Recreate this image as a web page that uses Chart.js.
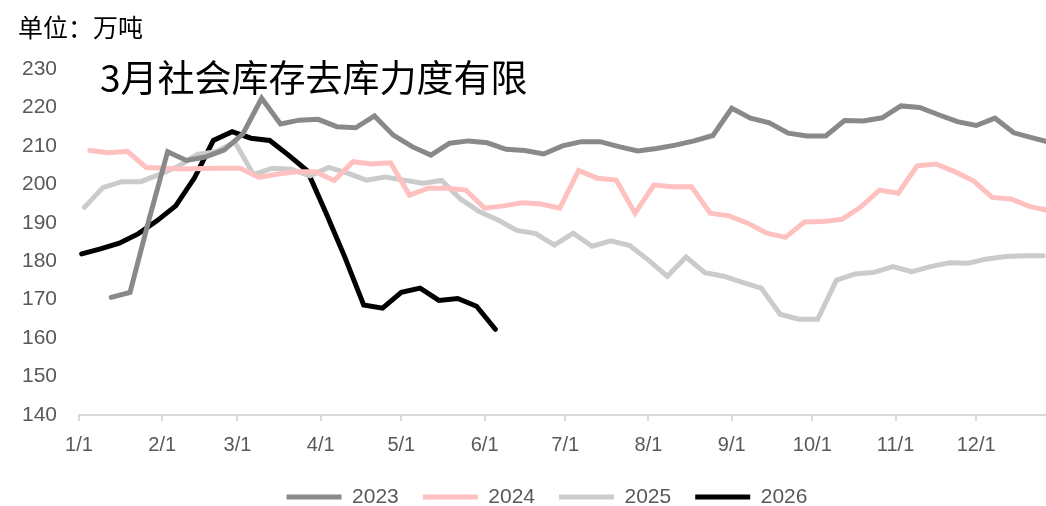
<!DOCTYPE html>
<html>
<head>
<meta charset="utf-8">
<script src="https://cdn.jsdelivr.net/npm/chart.js@4.4.1/dist/chart.umd.min.js"></script>
<style>
  html, body { margin: 0; padding: 0; background: #fff; }
  #wrap { width: 1046px; height: 506px; }
</style>
</head>
<body>
<div id="wrap"><canvas id="stockChart" width="1046" height="506"></canvas></div>
<script>
// ---- data (weekly readings, 万吨) ----
const unitText = "单位：万吨";
const noteText = "3月社会库存去库力度有限";

const seriesNames = ["2023", "2024", "2025", "2026"];
// first reading of each year, as day offset from 1/1
const firstDay = [12, 4, 2, 1];

const v2023 = [170.6, 171.9, 190.7, 208.5, 206.2, 207.1, 208.9, 213.1, 222.4, 215.7,
  216.7, 216.9, 215.0, 214.7, 217.8, 212.8, 209.8, 207.6, 210.7, 211.3,
  210.8, 209.1, 208.8, 207.9, 210.0, 211.1, 211.1, 209.8, 208.7, 209.3,
  210.2, 211.3, 212.7, 219.8, 217.2, 216.0, 213.3, 212.6, 212.6, 216.6,
  216.5, 217.3, 220.4, 220.0, 218.1, 216.3, 215.3, 217.2, 213.4, 212.1, 210.8];
const v2024 = [208.8, 208.2, 208.6, 204.4, 204.2, 204.0, 204.1, 204.2, 204.2, 201.8,
  202.7, 203.3, 203.3, 201.0, 205.9, 205.3, 205.6, 197.2, 199.0, 199.0,
  198.5, 193.8, 194.4, 195.2, 194.9, 193.8, 203.6, 201.6, 201.1, 192.5,
  199.8, 199.4, 199.4, 192.5, 191.8, 189.9, 187.3, 186.2, 190.2, 190.3,
  190.9, 194.1, 198.5, 197.7, 204.8, 205.3, 203.3, 200.9, 196.6, 196.2, 194.2, 193.2];
const v2025 = [194.0, 199.2, 200.7, 200.7, 202.6, 204.7, 207.8, 208.5, 211.0, 202.5,
  204.2, 203.9, 202.2, 204.4, 202.9, 201.1, 201.9, 201.1, 200.3, 201.0,
  196.2, 192.9, 190.7, 188.0, 187.2, 184.2, 187.3, 183.9, 185.3, 184.1,
  180.3, 176.1, 181.1, 177.0, 176.1, 174.5, 173.0, 166.2, 164.9, 164.9,
  175.1, 176.7, 177.1, 178.6, 177.3, 178.6, 179.6, 179.5, 180.6, 181.2, 181.4, 181.4];
const v2026 = [181.9, 183.2, 184.7, 187.1, 190.5, 194.4, 201.7, 211.4, 213.7, 212.0,
  211.4, 207.6, 203.5, 192.5, 181.0, 168.6, 167.8, 171.9, 173.0, 169.8,
  170.3, 168.3, 162.3];

const monthDays = [0, 31, 59, 90, 120, 151, 181, 212, 243, 273, 304, 334];
const monthLabels = ["1/1", "2/1", "3/1", "4/1", "5/1", "6/1", "7/1", "8/1", "9/1", "10/1", "11/1", "12/1"];
const yTicks = [140, 150, 160, 170, 180, 190, 200, 210, 220, 230];

const colors = ["#898989", "#FFC0C0", "#CBCBCB", "#000000"];

//--------------------------------------------------------
function toPoints(values, start) {
  // one reading per week
  return values.map((v, i) => ({ x: start + 7 * i, y: v }));
}

const allValues = [v2023, v2024, v2025, v2026];
const datasets = allValues.map((vals, i) => ({
  label: seriesNames[i],
  data: toPoints(vals, firstDay[i]),
  borderColor: colors[i],
  backgroundColor: colors[i],
  borderWidth: 5,
  borderCapStyle: "round",
  pointRadius: 0,
  tension: 0,
}));

//--------------------------------------------------------
const notesPlugin = {
  id: "notes",
  afterLayout(chart) {
    // legend sits a bit right of the canvas centre
    if (chart.legend) chart.legend.left = 48;
  },
  afterDraw(chart) {
    const c = chart.ctx;
    c.save();
    c.fillStyle = "#000";
    c.textBaseline = "middle";
    c.textAlign = "left";
    c.font = '25px "Noto Sans CJK SC"';
    c.fillText(unitText, 18, 27);
    c.font = '37px "Noto Sans CJK SC"';
    c.fillText(noteText, 100, 78);
    c.restore();
  },
};

const legendPad = 24;
const ctx = document.getElementById("stockChart");
const chart = new Chart(ctx, {
  type: "line",
  data: { datasets },
  plugins: [notesPlugin],
  options: {
    responsive: false,
    animation: false,
    devicePixelRatio: 1,
    layout: { padding: { left: 0, right: 0, top: 69, bottom: 0 } },
    plugins: {
      title: { display: false },
      tooltip: { enabled: false },
      legend: {
        position: "bottom",
        maxHeight: 19.5 + legendPad,
        labels: {
          usePointStyle: true,
          pointStyle: "line",
          pointStyleWidth: 55,
          padding: legendPad,
          color: "#595959",
          font: { size: 21, family: "Liberation Sans" },
        },
      },
    },
    scales: {
      x: {
        type: "linear",
        min: 0,
        max: 360,
        afterBuildTicks: (s) => {
          s.ticks = monthDays.map((d) => ({ value: d }));
        },
        afterFit: (s) => {
          s.height = 47.5;
        },
        ticks: {
          autoSkip: false,
          maxRotation: 0,
          padding: 12,
          color: "#595959",
          font: { size: 20, family: "Liberation Sans" },
          callback: (v, i) => monthLabels[i],
        },
        grid: { display: true, drawOnChartArea: false, tickLength: 6, color: "#D9D9D9", lineWidth: 2 },
        border: { color: "#D9D9D9", width: 2 },
      },
      y: {
        min: 140,
        max: 230,
        afterBuildTicks: (s) => {
          s.ticks = yTicks.map((v) => ({ value: v }));
        },
        afterFit: (s) => {
          s.width = 79;
        },
        ticks: {
          padding: 22,
          color: "#595959",
          font: { size: 21, family: "Liberation Sans" },
        },
        grid: { display: false, drawTicks: false },
        border: { display: false },
      },
    },
  },
});
</script>
</body>
</html>
